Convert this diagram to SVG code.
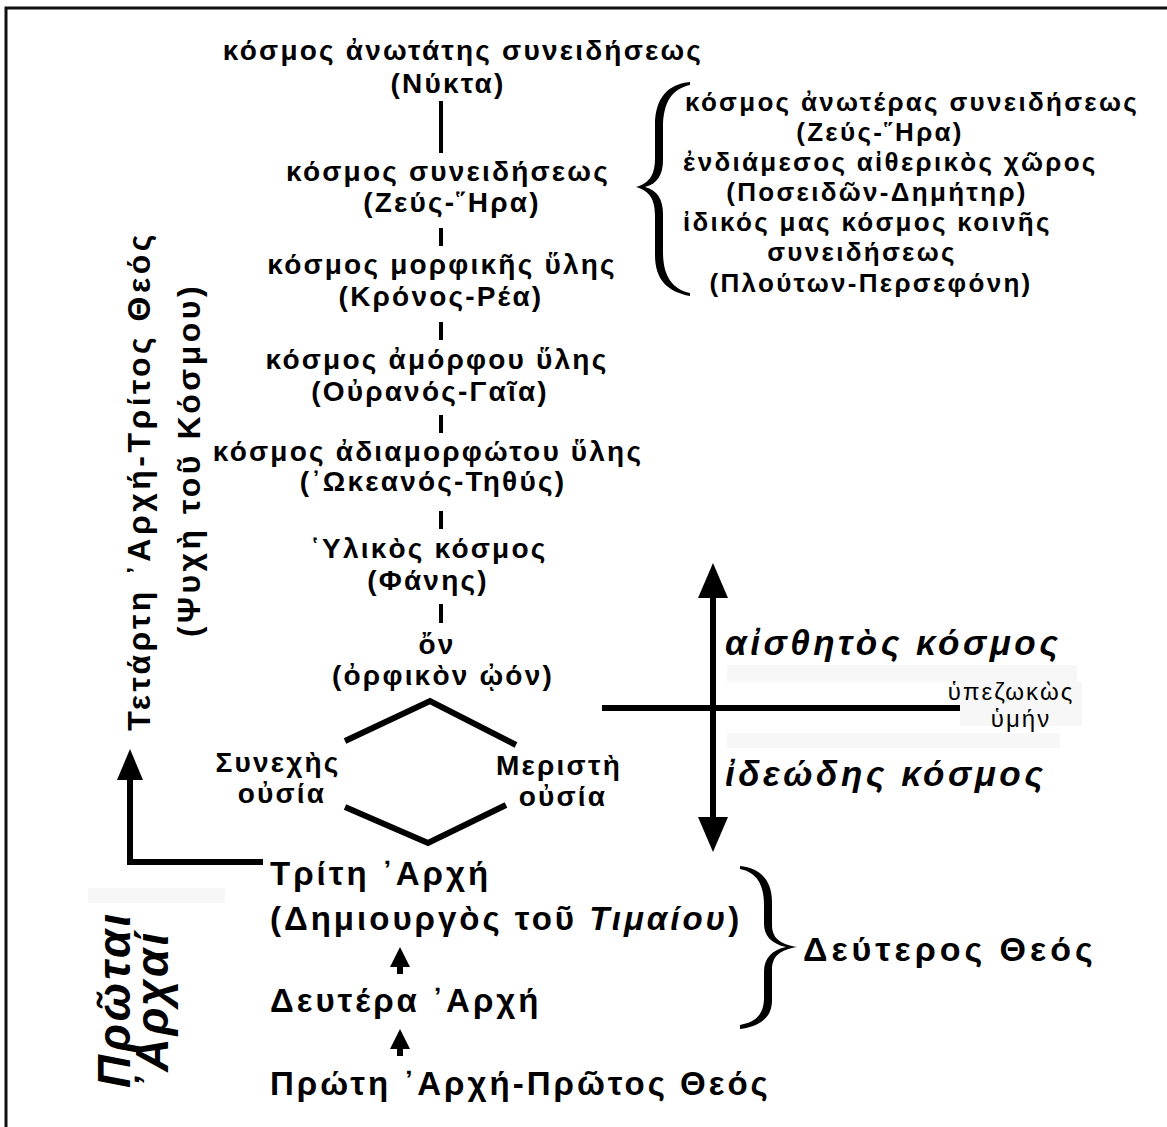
<svg xmlns="http://www.w3.org/2000/svg" width="1167" height="1127" viewBox="0 0 1167 1127">
<style>
text{font-family:"Liberation Sans",Arial,"DejaVu Sans",sans-serif;font-weight:bold;fill:#000}
.m{font-size:28px;letter-spacing:2.2px;text-anchor:middle}
.r{font-size:26px;letter-spacing:2.3px}
.rc{font-size:26px;letter-spacing:2.3px;text-anchor:middle}
.v{font-size:32px;letter-spacing:3.5px;text-anchor:middle}
.b{font-size:33px;letter-spacing:3px}
.d{font-size:34px;letter-spacing:4px}
.it{font-size:35px;letter-spacing:3.5px;font-style:italic}
.u{font-size:24px;letter-spacing:2px;font-weight:normal;text-anchor:middle}
.pa{font-size:46px;letter-spacing:3px;font-style:italic}
.seg{stroke:#000;stroke-width:4;fill:none}
.thick{stroke:#000;stroke-width:6;fill:none}
.faint{fill:#f7f7f7}
</style>
<rect width="1167" height="1127" fill="#fff"/>
<g id="frame"><path d="M6,1127 V8 H1167" stroke="#111" stroke-width="3" fill="none"/></g>
<g id="faint-bands">
<rect class="faint" x="727" y="665" width="350" height="17"/>
<rect class="faint" x="960" y="682" width="122" height="44"/>
<rect class="faint" x="727" y="733" width="333" height="15"/>
<rect class="faint" x="88" y="888" width="137" height="15"/>
</g>
<g id="connectors">
<line class="seg" x1="441" y1="101" x2="441" y2="153"/>
<line class="seg" x1="441" y1="228" x2="441" y2="246"/>
<line class="seg" x1="441" y1="322" x2="441" y2="340"/>
<line class="seg" x1="441" y1="415" x2="441" y2="433"/>
<line class="seg" x1="441" y1="511" x2="441" y2="529"/>
<line class="seg" x1="441" y1="604" x2="441" y2="623"/>
<polyline class="thick" points="345,741 430,701 516,745"/>
<polyline class="thick" points="345,807 428,843 506,805"/>
<line class="thick" x1="602" y1="708" x2="960" y2="708"/>
<line class="thick" x1="713" y1="590" x2="713" y2="825"/>
<polygon points="713,563 698,598 728,598"/>
<polygon points="713,852 698,817 728,817"/>
<polyline class="thick" points="263,862 130,862 130,775"/>
<polygon points="130,749 117,780 143,780"/>
<polygon points="400,947 390,967 410,967"/>
<rect x="397" y="966" width="6" height="8"/>
<polygon points="400,1029 390,1049 410,1049"/>
<rect x="397" y="1048" width="6" height="8"/>
<path d="M690,82 C668,84 655,98 655,125 L655,158 C655,174 650,183 636,187 C650,191 655,200 655,216 L655,255 C655,280 668,292 690,296 L690,293 C672,289 663,276 663,252 L663,214 C663,199 657,190 645,187 C657,184 663,175 663,160 L663,128 C663,102 672,89 690,85 Z"/>
<path d="M740,866 C760,868 772,880 772,902 L772,925 C772,938 780,944 797,947 C780,950 772,956 772,970 L772,1000 C772,1018 760,1026 740,1029 L740,1025 C756,1022 764,1014 764,998 L764,972 C764,958 772,950 786,947 C772,944 764,936 764,924 L764,905 C764,884 756,872 740,869 Z"/>
</g>
<g id="n-nukta"><text class="m" x="463" y="60">κόσμος ἀνωτάτης συνειδήσεως</text><text class="m" x="448" y="93">(Νύκτα)</text></g>
<g id="n-zeus"><text class="m" x="448" y="181">κόσμος συνειδήσεως</text><text class="m" x="452" y="212">(Ζεύς-῞Ηρα)</text></g>
<g id="n-kronos"><text class="m" x="442" y="274">κόσμος μορφικῆς ὕλης</text><text class="m" x="441" y="306">(Κρόνος-Ρέα)</text></g>
<g id="n-ouranos"><text class="m" x="437" y="369">κόσμος ἀμόρφου ὕλης</text><text class="m" x="430" y="401">(Οὐρανός-Γαῖα)</text></g>
<g id="n-okeanos"><text class="m" x="428" y="461">κόσμος ἀδιαμορφώτου ὕλης</text><text class="m" x="433" y="491">(᾿Ωκεανός-Τηθύς)</text></g>
<g id="n-phanes"><text class="m" x="429" y="558">῾Υλικὸς κόσμος</text><text class="m" x="428" y="590">(Φάνης)</text></g>
<g id="n-on"><text class="m" x="437" y="654">ὄν</text><text class="m" x="443" y="685">(ὀρφικὸν ᾠόν)</text></g>
<g id="n-synechis"><text class="m" x="278" y="772">Συνεχὴς</text><text class="m" x="282" y="803">οὐσία</text></g>
<g id="n-meristi"><text class="m" x="559" y="775">Μεριστὴ</text><text class="m" x="563" y="806">οὐσία</text></g>
<g id="n-list">
<text class="r" x="685" y="111">κόσμος ἀνωτέρας συνειδήσεως</text>
<text class="rc" x="880" y="141">(Ζεύς-῞Ηρα)</text>
<text class="r" x="683" y="171">ἐνδιάμεσος αἰθερικὸς χῶρος</text>
<text class="rc" x="877" y="201">(Ποσειδῶν-Δημήτηρ)</text>
<text class="r" x="683" y="231">ἰδικός μας κόσμος κοινῆς</text>
<text class="rc" x="862" y="261">συνειδήσεως</text>
<text class="rc" x="871" y="292">(Πλούτων-Περσεφόνη)</text>
</g>
<g id="n-aisthitos"><text class="it" x="725" y="655">αἰσθητὸς κόσμος</text></g>
<g id="n-ideodis"><text class="it" x="725" y="786">ἰδεώδης κόσμος</text></g>
<g id="n-ymin"><text class="u" x="1011" y="700">ὑπεζωκὼς</text><text class="u" x="1021" y="727">ὑμήν</text></g>
<g id="n-tetarti">
<text class="v" transform="translate(150,481) rotate(-90)">Τετάρτη ᾿Αρχή-Τρίτος Θεός</text>
<text class="v" transform="translate(200,460) rotate(-90)">(Ψυχὴ τοῦ Κόσμου)</text>
</g>
<g id="n-protai">
<text class="pa" transform="translate(130,1088) rotate(-90)">Πρῶται</text>
<text class="pa" transform="translate(168,1090) rotate(-90)">᾿Αρχαί</text>
</g>
<g id="n-triti"><text class="b" x="270" y="885">Τρίτη ᾿Αρχή</text><text class="b" x="270" y="930">(Δημιουργὸς τοῦ <tspan font-style="italic">Τιμαίου</tspan>)</text></g>
<g id="n-deutera"><text class="b" x="270" y="1012">Δευτέρα ᾿Αρχή</text></g>
<g id="n-proti"><text class="b" x="270" y="1095">Πρώτη ᾿Αρχή-Πρῶτος Θεός</text></g>
<g id="n-deuteros"><text class="d" x="803" y="961">Δεύτερος Θεός</text></g>
</svg>
